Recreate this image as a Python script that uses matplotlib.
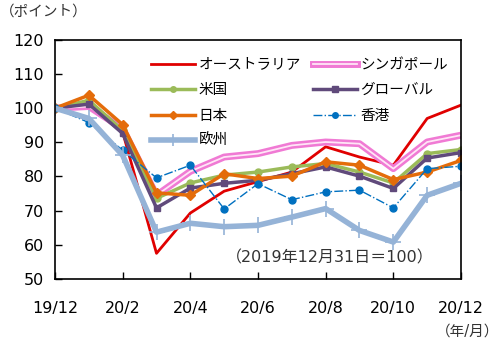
import matplotlib.pyplot as plt
from matplotlib.lines import Line2D
from matplotlib.legend_handler import HandlerBase

plt.rcParams['font.family'] = ['DejaVu Sans', 'Noto Sans CJK JP']

# monthly index values, 2019/12 = 100
months = list(range(13))
tick_pos = [0, 2, 4, 6, 8, 10, 12]
tick_labels = ["19/12", "20/2", "20/4", "20/6", "20/8", "20/10", "20/12"]

australia = [100, 100.5, 93.0, 57.5, 69.3, 75.7, 78.5, 81.3, 88.7, 85.7, 83.3, 97.0, 100.9]
singapore = [100, 100.5, 94.0, 74.5, 81.5, 85.7, 86.7, 89.1, 90.1, 89.6, 82.3, 90.1, 92.1]
usa = [100, 102.3, 93.5, 73.6, 78.1, 80.4, 81.3, 82.8, 83.8, 81.3, 78.1, 86.7, 87.9]
global_ = [100, 101.2, 92.6, 70.8, 76.6, 78.0, 78.9, 80.8, 82.8, 80.1, 76.5, 85.4, 87.0]
japan = [100, 103.8, 95.2, 75.2, 74.5, 80.8, 79.4, 80.1, 84.3, 83.3, 79.1, 81.3, 84.7]
hongkong = [100, 95.8, 87.7, 79.6, 83.3, 70.5, 77.9, 73.2, 75.5, 76.0, 70.8, 82.3, 83.0]
europe = [100, 97.0, 86.2, 63.7, 66.3, 65.3, 65.7, 68.1, 70.6, 64.2, 60.8, 74.5, 78.0]

fig = plt.figure(figsize=(5, 3.41), dpi=100)
ax = fig.add_axes([0.11, 0.182, 0.812, 0.701])

l_au, = ax.plot(months, australia, color='#E00000', lw=2, label='オーストラリア')
ax.plot(months, singapore, color='#F07AD4', lw=5, solid_capstyle='butt')
ax.plot(months, singapore, color='#FFE6F6', lw=1.3, solid_capstyle='butt')
l_us, = ax.plot(months, usa, color='#9BBB59', lw=2.5, marker='o', ms=5, label='米国')
l_gl, = ax.plot(months, global_, color='#604A7B', lw=2.5, marker='s', ms=5, label='グローバル')
l_jp, = ax.plot(months, japan, color='#E46C0A', lw=2.5, marker='D', ms=5, label='日本')
l_hk, = ax.plot(months, hongkong, color='#0070C0', lw=1, ls='-.', marker='o', ms=5, label='香港')
l_eu, = ax.plot(months, europe, color='#95B3D7', lw=4, marker='+', ms=11, mew=1.2, label='欧州')


# legend entry for the double pink line
class DoubleLine(HandlerBase):
    def create_artists(self, legend, orig, xd, yd, w, h, fs, trans):
        y = h / 2 - yd
        a = Line2D([-xd, w - xd], [y, y], color='#F07AD4', lw=5, transform=trans)
        b = Line2D([-xd, w - xd], [y, y], color='#FFE6F6', lw=1.3, transform=trans)
        return [a, b]


l_sg = Line2D([], [], label='シンガポール')
handles = [l_au, l_us, l_jp, l_eu, l_sg, l_gl, l_hk]
ax.legend(handles=handles, ncol=2, loc='upper left', bbox_to_anchor=(0.205, 0.985),
          frameon=False, fontsize=10.5, handlelength=3.0, handletextpad=0.25,
          columnspacing=0.8, labelspacing=0.72, markerscale=0.8,
          handler_map={l_sg: DoubleLine()})

ax.set_xlim(0, 12)
ax.set_ylim(50, 120)
ax.set_yticks(range(50, 121, 10))
ax.set_xticks(tick_pos)
ax.set_xticklabels(tick_labels)
ax.tick_params(direction='in', labelsize=11.5, length=5, width=1, pad=16)
ax.tick_params(axis='y', pad=8)
for s in ax.spines.values():
    s.set_linewidth(1.2)

fig.text(0.0, 0.955, '（ポイント）', fontsize=10.5, color='#333333')
ax.text(0.42, 0.07, '（2019年12月31日＝100）', transform=ax.transAxes, fontsize=11.5,
        color='#333333')
fig.text(0.998, 0.015, '（年/月）', fontsize=10.5, color='#333333', ha='right')

plt.savefig('out.png', dpi=100)
